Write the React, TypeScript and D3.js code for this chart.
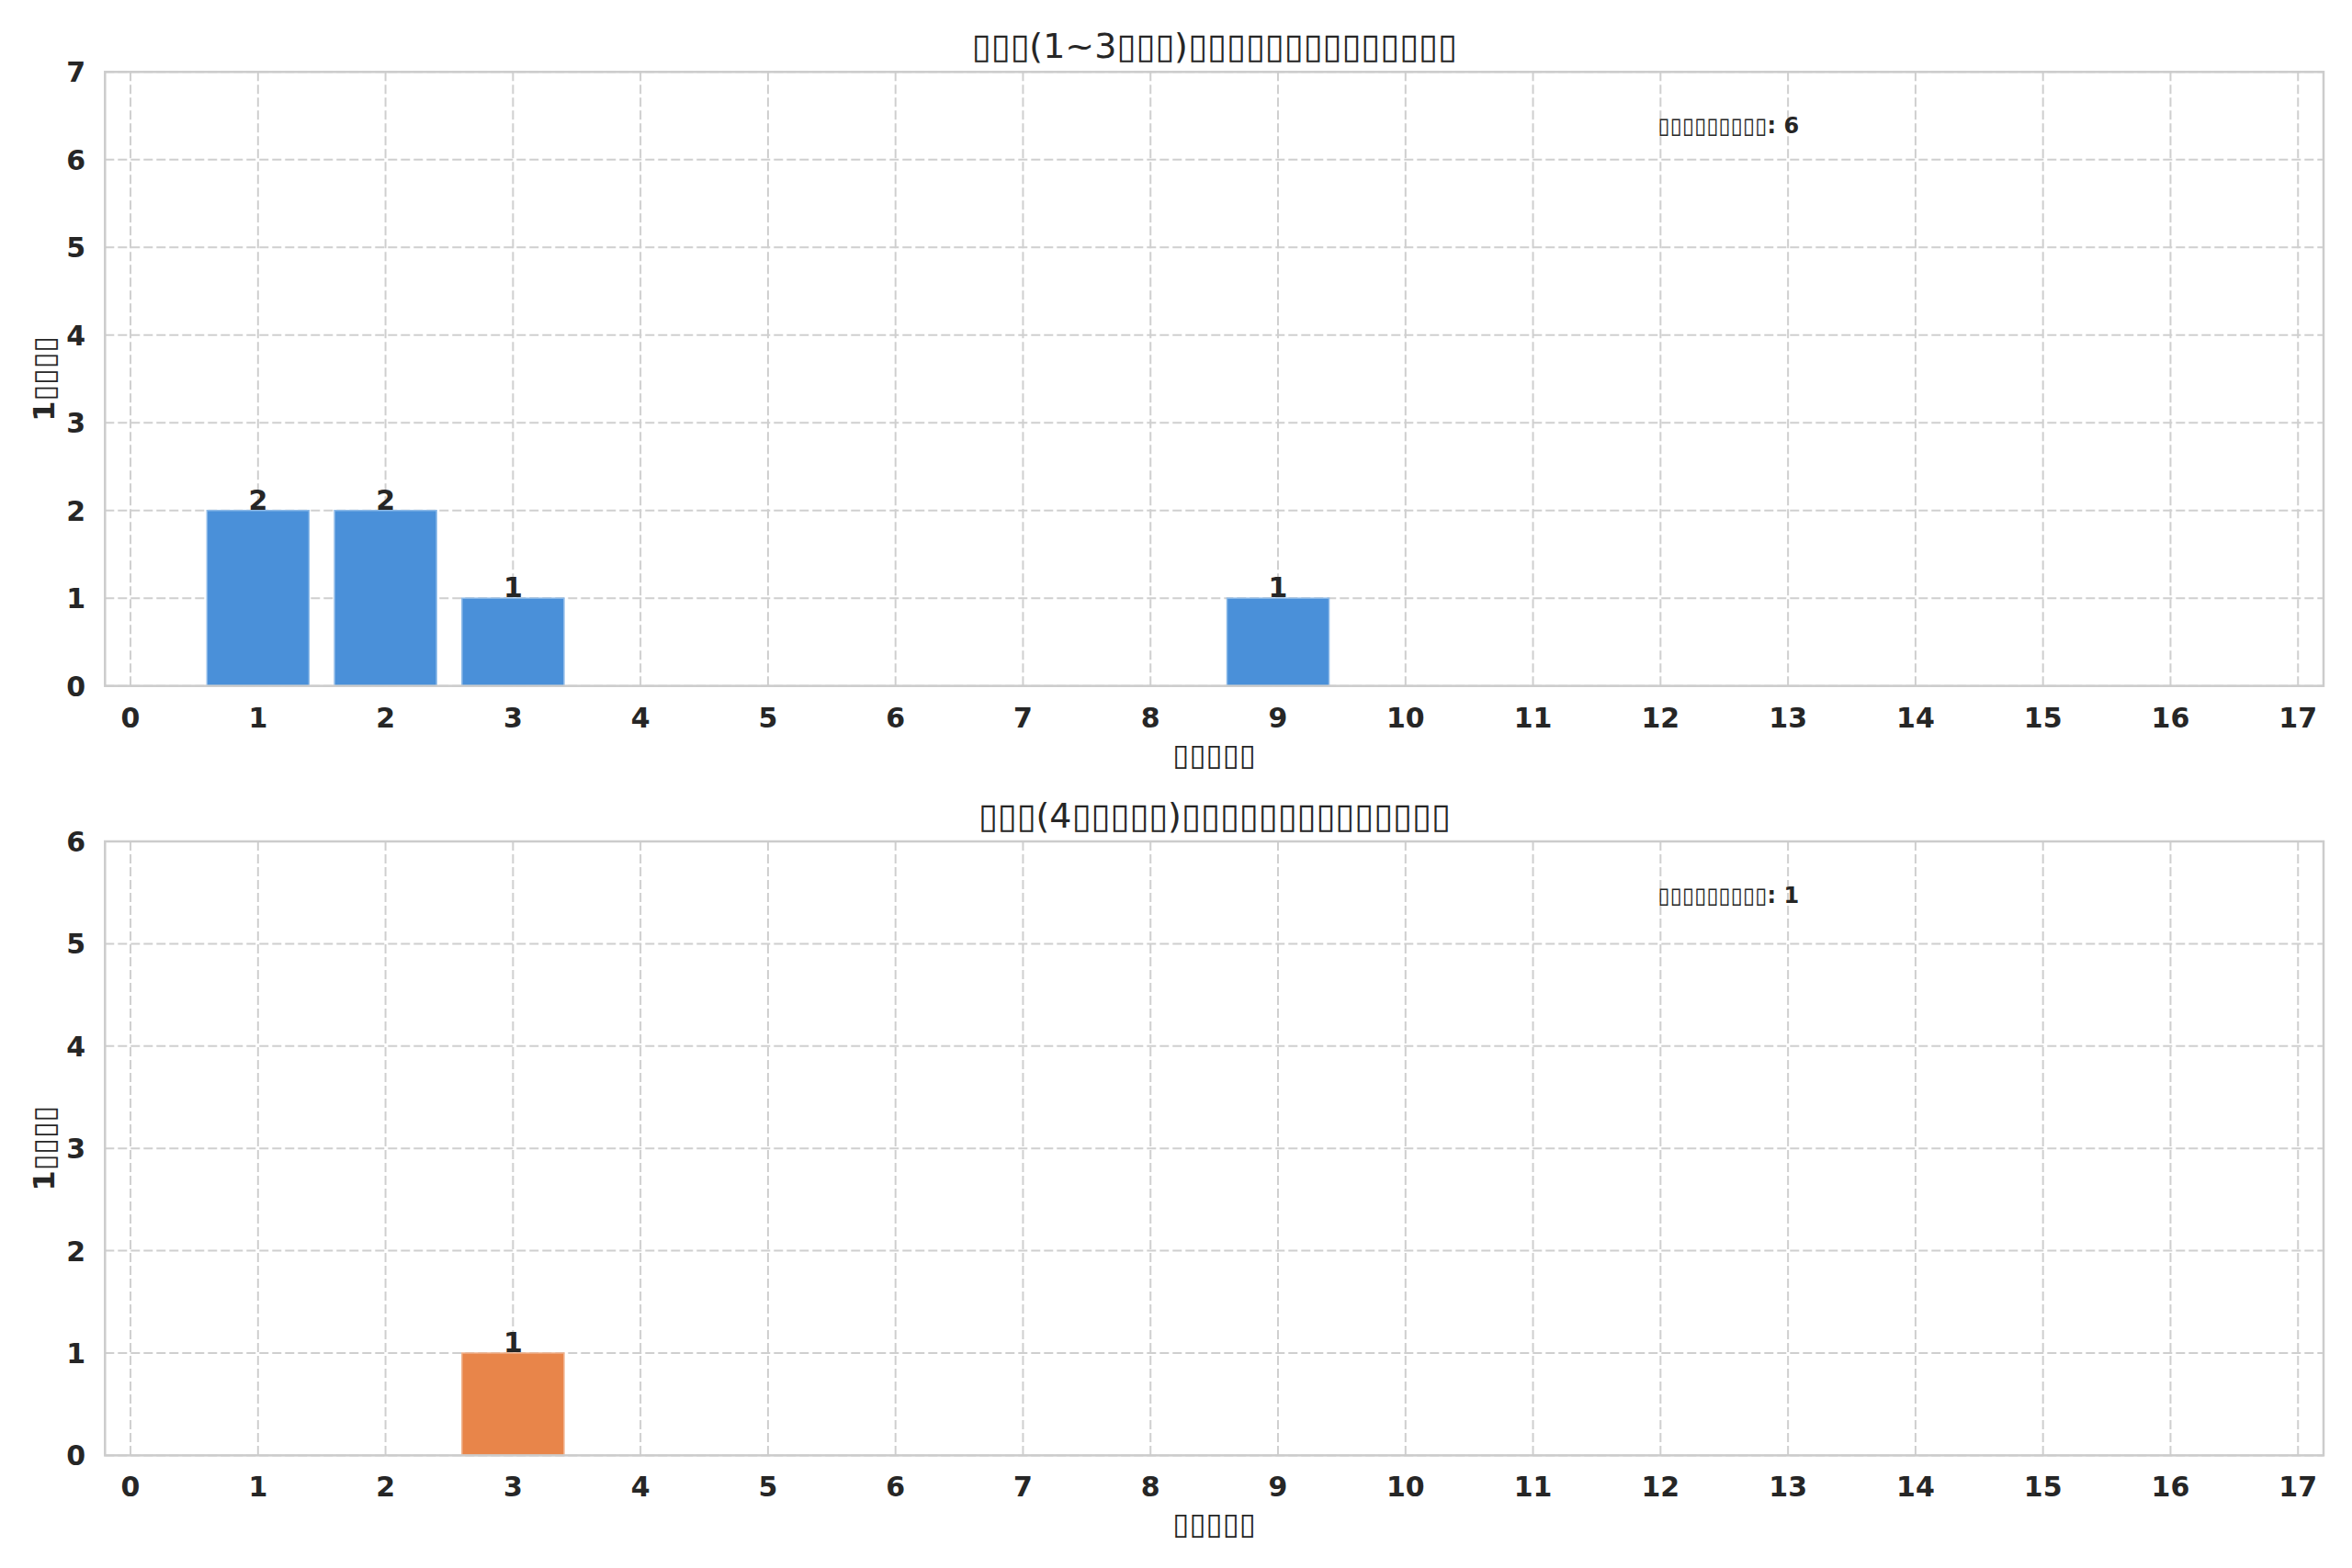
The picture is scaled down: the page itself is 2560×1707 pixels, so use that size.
import React from "react";
import * as d3 from "d3";

// ---- data ----
const xCategories = d3.range(0, 18); // 0..17
const shortCounts: [number, number][] = [
  [1, 2],
  [2, 2],
  [3, 1],
  [9, 1],
];
const longCounts: [number, number][] = [[3, 1]];
const T = "\u25AF"; // glyph shown for characters the original font lacked
const topTitle = `${T}${T}${T}(1~3${T}${T}${T})${T.repeat(14)}`;
const bottomTitle = `${T}${T}${T}(4${T.repeat(5)})${T.repeat(14)}`;
const yLabelText = `1${T.repeat(4)}`;
const xLabelText = T.repeat(5);
const topTotal = 6;
const bottomTotal = 1;
const annoPrefix = T.repeat(9);
const topYTicks = d3.range(0, 8);
const bottomYTicks = d3.range(0, 7);

const W = 2560;
const H = 1707;
const FONT = "'DejaVu Sans', sans-serif";
const TEXT = "#262626";
const GRID = "#cfcfcf";
const SPINE = "#cccccc";

type PanelProps = {
  top: number;
  data: [number, number][];
  yMax: number;
  yTicks: number[];
  color: string;
  edge: string;
  title: string;
  total: number;
};

const X0 = 114.3;
const X1 = 2529;
const PH = 668.4;

function Panel({ top, data, yMax, yTicks, color, edge, title, total }: PanelProps) {
  const x = d3.scaleLinear().domain([-0.2, 17.2]).range([X0, X1]);
  const y = d3.scaleLinear().domain([0, yMax]).range([top + PH, top]);
  const bw = x(0.8) - x(0);
  const bottom = top + PH;
  return (
    <g>
      {/* grid */}
      {xCategories.map((c) => (
        <line
          key={"vx" + c}
          x1={x(c)}
          x2={x(c)}
          y1={top}
          y2={bottom}
          stroke={GRID}
          strokeWidth={2}
          strokeDasharray="10 4"
        />
      ))}
      {yTicks.map((t) => (
        <line
          key={"hy" + t}
          x1={X0}
          x2={X1}
          y1={y(t)}
          y2={y(t)}
          stroke={GRID}
          strokeWidth={2}
          strokeDasharray="10 4"
        />
      ))}
      {/* bars */}
      {data.map(([k, v]) => (
        <rect
          key={"b" + k}
          x={x(k) - bw / 2}
          y={y(v)}
          width={bw}
          height={y(0) - y(v)}
          fill={color}
          stroke={edge}
          strokeWidth={1.5}
        />
      ))}
      {data.map(([k, v]) => (
        <text
          key={"l" + k}
          x={x(k)}
          y={y(v) - 1}
          textAnchor="middle"
          fontSize={30}
          fontWeight="bold"
          fill={TEXT}
        >
          {v}
        </text>
      ))}
      {/* spines */}
      <rect x={X0} y={top} width={X1 - X0} height={PH} fill="none" stroke={SPINE} strokeWidth={2.5} />
      {/* ticks */}
      {xCategories.map((c) => (
        <text
          key={"xt" + c}
          x={x(c)}
          y={bottom + 45}
          textAnchor="middle"
          fontSize={30}
          fontWeight="bold"
          fill={TEXT}
        >
          {c}
        </text>
      ))}
      {yTicks.map((t) => (
        <text
          key={"yt" + t}
          x={93}
          y={y(t) + 11}
          textAnchor="end"
          fontSize={30}
          fontWeight="bold"
          fill={TEXT}
        >
          {t}
        </text>
      ))}
      {/* labels */}
      <text
        x={(X0 + X1) / 2}
        y={top - 15}
        textAnchor="middle"
        fontSize={38}
        fill={TEXT}
      >
        {title}
      </text>
      <text
        x={(X0 + X1) / 2}
        y={bottom + 86}
        textAnchor="middle"
        fontSize={33}
        fill={TEXT}
      >
        {xLabelText}
      </text>
      <text
        transform={`translate(59,${(top + bottom) / 2}) rotate(-90)`}
        textAnchor="middle"
        fontSize={32}
        fontWeight="bold"
        fill={TEXT}
      >
        {yLabelText}
      </text>
      <text
        x={X0 + 0.7 * (X1 - X0)}
        y={bottom - 0.9 * PH}
        fontSize={24}
        fontWeight="bold"
        fill={TEXT}
      >
        {`${annoPrefix}: ${total}`}
      </text>
    </g>
  );
}

export default function App() {
  return (
    <div style={{ position: "absolute", left: 0, top: 0, width: W, height: H, background: "#fff" }}>
      <svg width={W} height={H} style={{ display: "block", fontFamily: FONT }}>
        <rect width={W} height={H} fill="#fff" />
        <Panel
          top={78.3}
          data={shortCounts}
          yMax={7}
          yTicks={topYTicks}
          color="#4A90D9"
          edge="#8DBAE8"
          title={topTitle}
          total={topTotal}
        />
        <Panel
          top={916}
          data={longCounts}
          yMax={6}
          yTicks={bottomYTicks}
          color="#E8854A"
          edge="#F0B08A"
          title={bottomTitle}
          total={bottomTotal}
        />
      </svg>
    </div>
  );
}
